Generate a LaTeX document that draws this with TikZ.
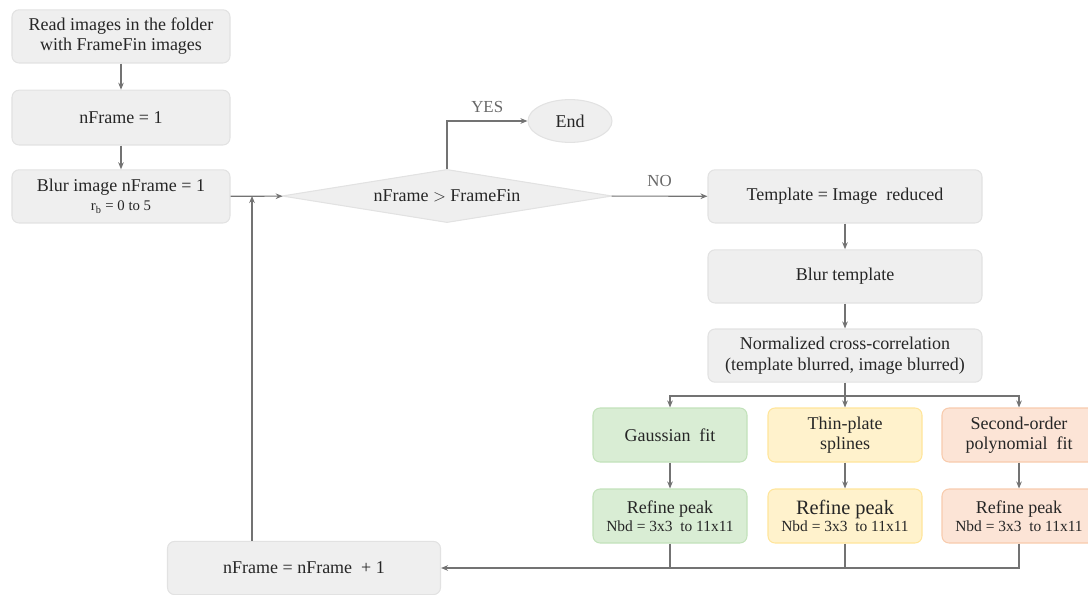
\documentclass[tikz,border=0pt]{standalone}
\usepackage{fontspec}
\setmainfont{Liberation Serif}
\usetikzlibrary{arrows.meta, positioning, shapes.geometric}
\definecolor{boxcol}{HTML}{EFEFEF}
\definecolor{boxline}{HTML}{E2E2E2}
\definecolor{gausscol}{HTML}{D9EDD4}
\definecolor{gaussline}{HTML}{C2E2BA}
\definecolor{splinecol}{HTML}{FFF2CC}
\definecolor{splineline}{HTML}{FFE59A}
\definecolor{polycol}{HTML}{FCE4D6}
\definecolor{polyline}{HTML}{F8CBAD}
\definecolor{linecol}{HTML}{737373}
\definecolor{txtcol}{HTML}{262626}
\tikzset{
  pbox/.style={rectangle, rounded corners=5pt, draw=boxline, fill=boxcol, minimum width=5.45cm, minimum height=1.33cm, align=center, text=txtcol, font=\fontsize{12.8}{14.5}\selectfont, inner sep=2pt},
  wbox/.style={pbox, minimum width=6.85cm},
  fbox/.style={pbox, minimum width=3.85cm, minimum height=1.35cm},
  dbox/.style={diamond, aspect=6.2, draw=boxline, fill=boxcol, minimum width=8.25cm, minimum height=1.33cm, inner sep=0pt, text=txtcol, font=\fontsize{12.8}{14.5}\selectfont},
  ebox/.style={ellipse, draw=boxline, fill=boxcol, minimum width=2.1cm, minimum height=1.07cm, text=txtcol, font=\fontsize{12.8}{14.5}\selectfont},
  lbl/.style={text=linecol!90!black, font=\fontsize{12}{14}\selectfont},
}
\newcommand{\nbd}{{\fontsize{11}{12.5}\selectfont Nbd = 3x3\ \ to 11x11}}

\begin{document}
\begin{tikzpicture}[>={Stealth[length=5pt,width=4pt]}, line width=0.75pt, draw=linecol]
  \useasboundingbox (0,0) rectangle (27.2,-14.875);
  % left column
  \node[pbox] (read) at (3.025,-0.91) {Read images in the folder\\with FrameFin images};
  \node[pbox, minimum height=1.37cm] (nf1) at (3.025,-2.94) {nFrame = 1};
  \node[pbox] (blur) at (3.025,-4.91) {Blur image nFrame = 1\\[-1pt]{\fontsize{10.5}{12}\selectfont r\textsubscript{b} = 0 to 5}};
  \node[dbox] (test) at (11.175,-4.9) {nFrame $>$ FrameFin};
  \node[ebox] (end) at (14.25,-3.025) {End};
  % right column
  \node[wbox] (tmpl) at (21.125,-4.91) {Template = Image\ \ reduced};
  \node[wbox] (blurt) at (21.125,-6.91) {Blur template};
  \node[wbox] (ncc) at (21.125,-8.89) {Normalized cross-correlation\\(template blurred, image blurred)};
  % three fits
  \node[fbox, fill=gausscol, draw=gaussline] (gauss) at (16.75,-10.875) {Gaussian\ \ fit};
  \node[fbox, fill=splinecol, draw=splineline] (thin) at (21.125,-10.875) {Thin-plate\\splines};
  \node[fbox, fill=polycol, draw=polyline] (poly) at (25.475,-10.875) {Second-order\\polynomial\ \ fit};
  \node[fbox, fill=gausscol, draw=gaussline] (rg) at (16.75,-12.9) {Refine peak\\[-2pt]\nbd};
  \node[fbox, fill=splinecol, draw=splineline] (rt) at (21.125,-12.9) {{\fontsize{14.5}{16}\selectfont Refine peak}\\[-2pt]\nbd};
  \node[fbox, fill=polycol, draw=polyline] (rp) at (25.475,-12.9) {Refine peak\\[-2pt]\nbd};
  \node[pbox, minimum width=6.825cm] (inc) at (7.6,-14.2) {nFrame = nFrame\ \ + 1};
  \coordinate (split) at (21.125,-9.9);
  \coordinate (back) at (6.3,-4.9);

  \draw[->, linecol] (read) -- (nf1);
  \draw[->, linecol] (nf1) -- (blur);
  \draw[->, linecol] (blur) -- (test);
  \draw[->, linecol] (test.north) |- node[lbl, pos=0.75, above=2pt] {YES} (end);
  \draw[->, linecol] (test) -- node[lbl, above=3pt] {NO} (tmpl);
  \draw[->, linecol] (tmpl) -- (blurt);
  \draw[->, linecol] (blurt) -- (ncc);
  \draw[linecol] (ncc) -- (split);
  \draw[->, linecol] (split) -| (gauss);
  \draw[->, linecol] (split) -- (thin);
  \draw[->, linecol] (split) -| (poly);
  \draw[->, linecol] (gauss) -- (rg);
  \draw[->, linecol] (thin) -- (rt);
  \draw[->, linecol] (poly) -- (rp);
  % back to the loop
  \draw[->, linecol] (rp) |- (inc);
  \draw[linecol] (rg.south) -- (rg.south |- inc.east);
  \draw[linecol] (rt.south) -- (rt.south |- inc.east);
  \draw[->, linecol] (inc.north -| back) -- (back);
\end{tikzpicture}
\end{document}
